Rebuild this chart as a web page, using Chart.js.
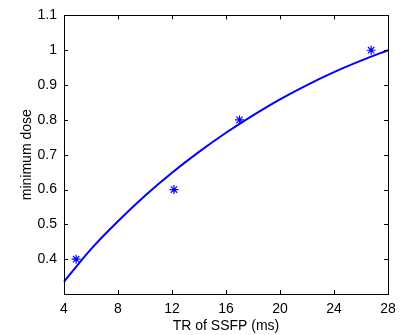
<!DOCTYPE html>
<html>
<head>
<meta charset="utf-8">
<script src="https://cdn.jsdelivr.net/npm/chart.js@4/dist/chart.umd.min.js"></script>
<style>
  html, body { margin: 0; padding: 0; background: #fff; }
  #wrap { width: 409px; height: 335px; }
</style>
</head>
<body>
<div id="wrap"><canvas id="doseChart"></canvas></div>
<script>
// Measured points (stars)
const measuredTR = [4.9, 12.15, 17.0, 26.75];
const measuredDose = [0.4, 0.6, 0.8, 1.0];

// Fitted curve
const fitTR = [4, 6, 8, 10, 12, 14, 16, 18, 20, 22, 24, 26, 28];
const fitDose = [0.335, 0.429, 0.509, 0.582, 0.648, 0.708, 0.763, 0.813, 0.859, 0.900, 0.937, 0.970, 1.0];

// Axis ticks
const xTicks = [4, 8, 12, 16, 20, 24, 28];
const yTicks = [0.4, 0.5, 0.6, 0.7, 0.8, 0.9, 1.0, 1.1];

const blue = '#0000ff';
const tickFont = { family: "'Liberation Sans', Arial, sans-serif", size: 14 };
const titleFont = { family: "'Liberation Sans', Arial, sans-serif", size: 14 };

// MATLAB style box with inward ticks
const boxPlugin = {
    id: 'matlabBox',
    afterDraw(chart) {
        const ctx = chart.ctx;
        const a = chart.chartArea;
        const xs = chart.scales.x, ys = chart.scales.y;
        ctx.save();
        ctx.strokeStyle = '#000';
        ctx.lineWidth = 1;
        ctx.strokeRect(Math.round(a.left) + 0.5, Math.round(a.top) + 0.5,
            Math.round(a.right - a.left), Math.round(a.bottom - a.top));
        ctx.beginPath();
        xTicks.forEach(v => {
            const px = Math.round(xs.getPixelForValue(v)) + 0.5;
            ctx.moveTo(px, a.bottom); ctx.lineTo(px, a.bottom - 4);
            ctx.moveTo(px, a.top); ctx.lineTo(px, a.top + 4);
        });
        yTicks.forEach(v => {
            const py = Math.round(ys.getPixelForValue(v)) + 0.5;
            ctx.moveTo(a.left, py); ctx.lineTo(a.left + 4, py);
            ctx.moveTo(a.right, py); ctx.lineTo(a.right - 4, py);
        });
        ctx.stroke();
        ctx.restore();
    }
};

new Chart(document.getElementById('doseChart').getContext('2d'), {
    type: 'scatter',
    data: {
        datasets: [
            {
                label: 'fit',
                data: fitTR.map((x, i) => ({ x: x, y: fitDose[i] })),
                showLine: true,
                borderColor: blue,
                borderWidth: 2,
                pointRadius: 0,
                cubicInterpolationMode: 'monotone',
                fill: false,
                clip: 2
            },
            {
                label: 'measured',
                data: measuredTR.map((x, i) => ({ x: x, y: measuredDose[i] })),
                pointStyle: 'star',
                pointRadius: 4.5,
                borderColor: blue,
                backgroundColor: blue,
                pointBorderWidth: 1.2,
                showLine: false
            }
        ]
    },
    options: {
        responsive: true,
        maintainAspectRatio: false,
        animation: false,
        layout: { padding: { top: 14, right: 21, left: 0, bottom: 0 } },
        plugins: {
            legend: { display: false },
            tooltip: { enabled: false }
        },
        scales: {
            x: {
                type: 'linear',
                min: 4,
                max: 28,
                afterFit: s => { s.height = 41; },
                afterBuildTicks: s => { s.ticks = xTicks.map(v => ({ value: v })); },
                grid: { display: false, drawTicks: false },
                border: { display: false },
                ticks: { color: '#000', font: tickFont, padding: 7, maxRotation: 0 },
                title: {
                    display: true,
                    text: 'TR of SSFP (ms)',
                    color: '#000',
                    font: titleFont,
                    padding: { top: 0, bottom: 0 }
                }
            },
            y: {
                type: 'linear',
                min: 0.3,
                max: 1.1,
                afterFit: s => { s.width = 64; },
                afterBuildTicks: s => { s.ticks = yTicks.map(v => ({ value: v })); },
                grid: { display: false, drawTicks: false },
                border: { display: false },
                ticks: {
                    color: '#000',
                    font: tickFont,
                    padding: 7,
                    callback: v => String(Math.round(v * 10) / 10)
                },
                title: {
                    display: true,
                    text: 'minimum dose',
                    color: '#000',
                    font: titleFont,
                    padding: { top: 19, bottom: 0 }
                }
            }
        }
    },
    plugins: [boxPlugin]
});
</script>
</body>
</html>
